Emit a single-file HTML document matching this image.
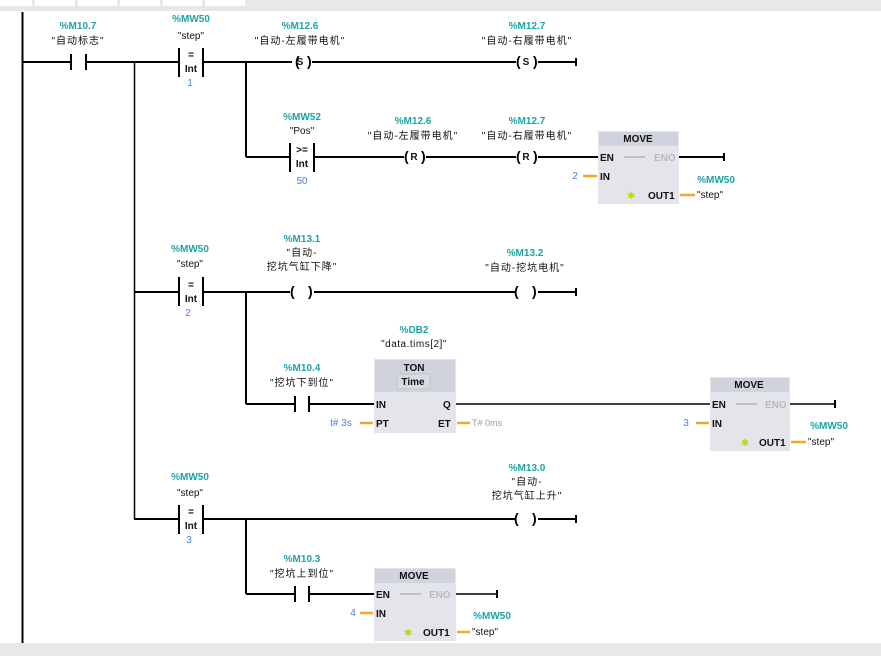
<!DOCTYPE html>
<html><head><meta charset="utf-8"><style>
html,body{margin:0;padding:0;background:#fff;}
svg{display:block;}
text{font-family:"Liberation Sans","Noto Sans CJK SC",sans-serif;}
.t{fill:#1fa3a3;font-size:10px;font-weight:bold;text-anchor:middle;}
.n{fill:#111;font-size:10px;text-anchor:middle;letter-spacing:1px;}
.b{fill:#4a7fe0;font-size:10px;text-anchor:middle;}
.p{fill:#111;font-size:10px;font-weight:bold;}
.g{fill:#b9b9c0;font-size:10px;font-weight:bold;}
.w{stroke:#000;stroke-width:2;fill:none;}
.o{stroke:#f5a623;stroke-width:2.5;}
</style></head><body>
<svg width="881" height="656" viewBox="0 0 881 656" xmlns="http://www.w3.org/2000/svg">
<rect x="0" y="0" width="881" height="11" fill="#e8e8e8"/>
<g fill="#fff"><rect x="0" y="0" width="32" height="6"/><rect x="35" y="0" width="40" height="6"/><rect x="78" y="0" width="39" height="6"/><rect x="120" y="0" width="40" height="6"/><rect x="163" y="0" width="39" height="6"/><rect x="205" y="0" width="40" height="6"/></g>
<rect x="0" y="643" width="881" height="13" fill="#e8e8e8"/>

<!-- rails -->
<line x1="22.5" y1="12" x2="22.5" y2="643" class="w"/>
<line x1="134.5" y1="62" x2="134.5" y2="519" stroke="#000" stroke-width="1.5"/>
<line x1="246" y1="62" x2="246" y2="157" class="w"/>
<line x1="246" y1="292" x2="246" y2="404" class="w"/>
<line x1="246" y1="519" x2="246" y2="594" class="w"/>

<!-- Row1 -->
<line x1="22" y1="62" x2="70" y2="62" class="w"/>
<line x1="71" y1="54" x2="71" y2="70" class="w"/><line x1="86" y1="54" x2="86" y2="70" class="w"/>
<line x1="86" y1="62" x2="178" y2="62" class="w"/>
<text x="78" y="29" class="t">%M10.7</text><text x="78" y="44" class="n">"自动标志"</text>
<line x1="179" y1="48" x2="179" y2="77" class="w"/><line x1="203" y1="48" x2="203" y2="77" class="w"/>
<text x="191" y="58" class="p" text-anchor="middle">=</text><text x="191" y="72" class="p" text-anchor="middle">Int</text>
<text x="191" y="22" class="t">%MW50</text><text x="191" y="39" class="n" style="letter-spacing:0">"step"</text><text x="190" y="86" class="b">1</text>
<line x1="203" y1="62" x2="292" y2="62" class="w"/>
<text x="300" y="29" class="t">%M12.6</text><text x="300" y="44" class="n">"自动-左履带电机"</text>
<text x="295" y="66" font-size="14" font-weight="bold">(</text><text x="300" y="65" class="p" font-size="8" text-anchor="middle">S</text><text x="307" y="66" font-size="14" font-weight="bold">)</text>
<line x1="312" y1="62" x2="516" y2="62" class="w"/>
<text x="527" y="29" class="t">%M12.7</text><text x="527" y="44" class="n">"自动-右履带电机"</text>
<text x="516" y="66" font-size="14" font-weight="bold">(</text><text x="526" y="65" class="p" font-size="8" text-anchor="middle">S</text><text x="533" y="66" font-size="14" font-weight="bold">)</text>
<line x1="538" y1="62" x2="576" y2="62" class="w"/><line x1="576" y1="58" x2="576" y2="66" class="w"/>

<!-- Row2 -->
<line x1="246" y1="157" x2="290" y2="157" class="w"/>
<line x1="290" y1="143" x2="290" y2="172" class="w"/><line x1="314" y1="143" x2="314" y2="172" class="w"/>
<text x="302" y="153" class="p" text-anchor="middle">&gt;=</text><text x="302" y="167" class="p" text-anchor="middle">Int</text>
<text x="302" y="120" class="t">%MW52</text><text x="302" y="134" class="n" style="letter-spacing:0">"Pos"</text><text x="302" y="184" class="b">50</text>
<line x1="314" y1="157" x2="404" y2="157" class="w"/>
<text x="413" y="124" class="t">%M12.6</text><text x="413" y="139" class="n">"自动-左履带电机"</text>
<text x="404" y="161" font-size="14" font-weight="bold">(</text><text x="414" y="160" class="p" font-size="8" text-anchor="middle">R</text><text x="421" y="161" font-size="14" font-weight="bold">)</text>
<line x1="426" y1="157" x2="516" y2="157" class="w"/>
<text x="527" y="124" class="t">%M12.7</text><text x="527" y="139" class="n">"自动-右履带电机"</text>
<text x="516" y="161" font-size="14" font-weight="bold">(</text><text x="526" y="160" class="p" font-size="8" text-anchor="middle">R</text><text x="533" y="161" font-size="14" font-weight="bold">)</text>
<line x1="538" y1="157" x2="598" y2="157" class="w"/>
<!-- MOVE1 -->
<rect x="598" y="131" width="81" height="73" fill="#e4e5eb"/><rect x="599" y="132" width="79" height="14" fill="#d1d3dc"/>
<text x="638" y="142" class="p" text-anchor="middle" font-size="9">MOVE</text>
<text x="600" y="161" class="p">EN</text><line x1="624" y1="157" x2="645" y2="157" stroke="#999" stroke-width="1"/><text x="654" y="161" class="g">ENO</text>
<text x="600" y="180" class="p">IN</text><text x="627" y="199" fill="#c8d400" font-size="10">✱</text><text x="648" y="199" class="p">OUT1</text>
<line x1="679" y1="157" x2="724" y2="157" class="w"/><line x1="724" y1="153" x2="724" y2="161" class="w"/>
<line x1="583" y1="176" x2="597" y2="176" class="o"/><text x="575" y="179" class="b">2</text>
<line x1="680" y1="195" x2="695" y2="195" class="o"/><text x="716" y="183" class="t">%MW50</text><text x="697" y="198" class="n" style="letter-spacing:0;text-anchor:start">"step"</text>

<!-- Row3 -->
<line x1="134" y1="292" x2="178" y2="292" class="w"/>
<line x1="179" y1="277" x2="179" y2="306" class="w"/><line x1="203" y1="277" x2="203" y2="306" class="w"/>
<text x="191" y="288" class="p" text-anchor="middle">=</text><text x="191" y="302" class="p" text-anchor="middle">Int</text>
<text x="190" y="252" class="t">%MW50</text><text x="190" y="267" class="n" style="letter-spacing:0">"step"</text><text x="188" y="316" class="b">2</text>
<line x1="203" y1="292" x2="290" y2="292" class="w"/>
<text x="302" y="242" class="t">%M13.1</text><text x="302" y="256" class="n">"自动-</text><text x="302" y="270" class="n">挖坑气缸下降"</text>
<text x="290" y="296" font-size="14" font-weight="bold">(</text><text x="308" y="296" font-size="14" font-weight="bold">)</text>
<line x1="314" y1="292" x2="515" y2="292" class="w"/>
<text x="525" y="256" class="t">%M13.2</text><text x="525" y="271" class="n">"自动-挖坑电机"</text>
<text x="514" y="296" font-size="14" font-weight="bold">(</text><text x="532" y="296" font-size="14" font-weight="bold">)</text>
<line x1="538" y1="292" x2="576" y2="292" class="w"/><line x1="576" y1="288" x2="576" y2="296" class="w"/>

<!-- Row4 -->
<line x1="246" y1="404" x2="294" y2="404" class="w"/>
<line x1="295" y1="396" x2="295" y2="412" class="w"/><line x1="309" y1="396" x2="309" y2="412" class="w"/>
<line x1="309" y1="404" x2="374" y2="404" class="w"/>
<text x="302" y="371" class="t">%M10.4</text><text x="302" y="386" class="n">"挖坑下到位"</text>
<text x="414" y="333" class="t">%DB2</text><text x="414" y="347" class="n" style="letter-spacing:0.5px">"data.tims[2]"</text>
<rect x="374" y="359" width="82" height="74" fill="#e4e5eb"/><rect x="375" y="360" width="80" height="32" fill="#d1d3dc"/>
<text x="414" y="371" class="p" text-anchor="middle">TON</text>
<rect x="397" y="374" width="33" height="15" fill="#d9dbe3" stroke="#c0c2cb"/><text x="413" y="385" class="p" text-anchor="middle">Time</text>
<text x="376" y="408" class="p">IN</text><text x="443" y="408" class="p">Q</text>
<text x="376" y="427" class="p">PT</text><text x="438" y="427" class="p">ET</text>
<line x1="360" y1="423" x2="373" y2="423" class="o"/><text x="341" y="426" class="b" font-size="9">t# 3s</text>
<line x1="457" y1="423" x2="470" y2="423" class="o"/><text x="472" y="426" fill="#999" font-size="9">T# 0ms</text>
<line x1="456" y1="404" x2="710" y2="404" stroke="#000" stroke-width="1.5"/>
<rect x="710" y="377" width="80" height="74" fill="#e4e5eb"/><rect x="711" y="378" width="78" height="14" fill="#d1d3dc"/>
<text x="749" y="388" class="p" text-anchor="middle" font-size="9">MOVE</text>
<text x="712" y="408" class="p">EN</text><line x1="736" y1="404" x2="757" y2="404" stroke="#999" stroke-width="1"/><text x="765" y="408" class="g">ENO</text>
<text x="712" y="427" class="p">IN</text><text x="741" y="446" fill="#c8d400" font-size="10">✱</text><text x="759" y="446" class="p">OUT1</text>
<line x1="790" y1="404" x2="835" y2="404" stroke="#000" stroke-width="1.5"/><line x1="835" y1="400" x2="835" y2="408" class="w"/>
<line x1="696" y1="423" x2="709" y2="423" class="o"/><text x="686" y="426" class="b">3</text>
<line x1="791" y1="442" x2="806" y2="442" class="o"/><text x="829" y="429" class="t">%MW50</text><text x="808" y="445" class="n" style="letter-spacing:0;text-anchor:start">"step"</text>

<!-- Row5 -->
<line x1="134" y1="519" x2="178" y2="519" class="w"/>
<line x1="179" y1="505" x2="179" y2="534" class="w"/><line x1="203" y1="505" x2="203" y2="534" class="w"/>
<text x="191" y="515" class="p" text-anchor="middle">=</text><text x="191" y="529" class="p" text-anchor="middle">Int</text>
<text x="190" y="480" class="t">%MW50</text><text x="190" y="496" class="n" style="letter-spacing:0">"step"</text><text x="189" y="543" class="b">3</text>
<line x1="203" y1="519" x2="515" y2="519" class="w"/>
<text x="527" y="471" class="t">%M13.0</text><text x="527" y="485" class="n">"自动-</text><text x="527" y="499" class="n">挖坑气缸上升"</text>
<text x="514" y="523" font-size="14" font-weight="bold">(</text><text x="532" y="523" font-size="14" font-weight="bold">)</text>
<line x1="538" y1="519" x2="576" y2="519" class="w"/><line x1="576" y1="515" x2="576" y2="523" class="w"/>
<line x1="246" y1="594" x2="294" y2="594" class="w"/>
<line x1="295" y1="586" x2="295" y2="602" class="w"/><line x1="309" y1="586" x2="309" y2="602" class="w"/>
<line x1="309" y1="594" x2="374" y2="594" class="w"/>
<text x="302" y="562" class="t">%M10.3</text><text x="302" y="577" class="n">"挖坑上到位"</text>
<rect x="374" y="568" width="82" height="73" fill="#e4e5eb"/><rect x="375" y="569" width="80" height="14" fill="#d1d3dc"/>
<text x="414" y="579" class="p" text-anchor="middle" font-size="9">MOVE</text>
<text x="376" y="598" class="p">EN</text><line x1="400" y1="594" x2="421" y2="594" stroke="#999" stroke-width="1"/><text x="429" y="598" class="g">ENO</text>
<text x="376" y="617" class="p">IN</text><text x="404" y="636" fill="#c8d400" font-size="10">✱</text><text x="423" y="636" class="p">OUT1</text>
<line x1="456" y1="594" x2="497" y2="594" stroke="#000" stroke-width="1.5"/><line x1="497" y1="590" x2="497" y2="598" class="w"/>
<line x1="360" y1="613" x2="373" y2="613" class="o"/><text x="353" y="616" class="b">4</text>
<line x1="457" y1="632" x2="470" y2="632" class="o"/><text x="492" y="619" class="t">%MW50</text><text x="472" y="635" class="n" style="letter-spacing:0;text-anchor:start">"step"</text>
</svg>
</body></html>
